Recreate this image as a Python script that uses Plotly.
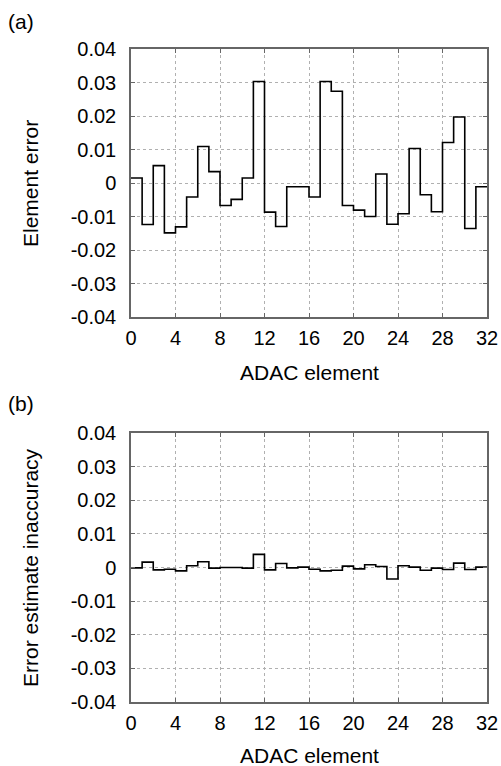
import plotly.graph_objects as go
from plotly.subplots import make_subplots

# ---- data ----
elements = list(range(32))
element_error = [0.0015, -0.0124, 0.0052, -0.0149, -0.0131, -0.0042, 0.0109, 0.0034,
                 -0.0067, -0.0049, 0.0015, 0.0303, -0.0087, -0.0130, -0.0011, -0.0011,
                 -0.0042, 0.0303, 0.0274, -0.0067, -0.0081, -0.0100, 0.0027, -0.0123,
                 -0.0092, 0.0103, -0.0035, -0.0086, 0.0121, 0.0197, -0.0136, -0.0011]
estimate_inaccuracy = [-0.0001, 0.0016, -0.0007, -0.0005, -0.0010, 0.0005, 0.0017, -0.0002,
                       0.0000, 0.0000, -0.0002, 0.0039, -0.0007, 0.0012, -0.0001, 0.0001,
                       -0.0005, -0.0010, -0.0008, 0.0004, -0.0004, 0.0008, 0.0003, -0.0034,
                       0.0005, 0.0001, -0.0008, -0.0002, -0.0006, 0.0013, -0.0006, 0.0001]
x_ticks = [0, 4, 8, 12, 16, 20, 24, 28, 32]
y_ticks = [0.04, 0.03, 0.02, 0.01, 0, -0.01, -0.02, -0.03, -0.04]
y_tick_labels = ["0.04", "0.03", "0.02", "0.01", "0", "-0.01", "-0.02", "-0.03", "-0.04"]
panel_labels = ["(a)", "(b)"]
y_titles = ["Element error", "Error estimate inaccuracy"]
x_title = "ADAC element"

W, H = 501, 766
ml, mr, mt, mb = 131, 14, 49, 64
plot_w = W - ml - mr
plot_h = H - mt - mb

def fy(py):
    return (H - mb - py) / plot_h

def fx(px):
    return (px - ml) / plot_w

fig = make_subplots(rows=2, cols=1)

for i, vals in enumerate([element_error, estimate_inaccuracy]):
    xs = elements + [elements[-1] + 1]
    ys = vals + [vals[-1]]
    fig.add_trace(go.Scatter(x=xs, y=ys, mode="lines", line=dict(shape="hv", color="black", width=1.6),
                             showlegend=False, hoverinfo="skip"), row=i + 1, col=1)

domains = [[fy(317), 1.0], [0.0, fy(433)]]
font = dict(family="Liberation Sans, Arial, sans-serif", color="black")
for i in range(2):
    xa = "xaxis" if i == 0 else "xaxis2"
    ya = "yaxis" if i == 0 else "yaxis2"
    fig.layout[xa].update(
        domain=[0, 1], range=[0, 32], tickvals=x_ticks, ticktext=[str(t) for t in x_ticks],
        showgrid=True, gridcolor="#b0b0b0", griddash="dot", gridwidth=1,
        showline=True, linecolor="#666666", linewidth=1.5, mirror="ticks",
        ticks="inside", ticklen=4, tickcolor="#666666",
        tickfont=dict(size=20, **font), zeroline=False, automargin=False,
        ticklabelstandoff=2,
    )
    fig.layout[ya].update(
        domain=domains[i], range=[-0.04, 0.04], tickvals=y_ticks, ticktext=y_tick_labels,
        showgrid=True, gridcolor="#b0b0b0", griddash="dot", gridwidth=1,
        showline=True, linecolor="#666666", linewidth=1.5, mirror="ticks",
        ticks="inside", ticklen=4, tickcolor="#666666",
        tickfont=dict(size=20, **font), zeroline=False, automargin=False,
        ticklabelstandoff=9,
    )

tfont = dict(size=21, **font)
# panel labels
fig.add_annotation(text=panel_labels[0], x=fx(6), y=fy(21), xref="paper", yref="paper",
                   showarrow=False, font=tfont, xanchor="left", yanchor="middle")
fig.add_annotation(text=panel_labels[1], x=fx(6), y=fy(403), xref="paper", yref="paper",
                   showarrow=False, font=tfont, xanchor="left", yanchor="middle")
# y titles
fig.add_annotation(text=y_titles[0], x=fx(30), y=fy(183), xref="paper", yref="paper", textangle=-90,
                   showarrow=False, font=tfont, xanchor="center", yanchor="middle")
fig.add_annotation(text=y_titles[1], x=fx(30), y=fy(567), xref="paper", yref="paper", textangle=-90,
                   showarrow=False, font=tfont, xanchor="center", yanchor="middle")
# x titles
fig.add_annotation(text=x_title, x=0.5, y=fy(372), xref="paper", yref="paper",
                   showarrow=False, font=tfont, xanchor="center", yanchor="middle")
fig.add_annotation(text=x_title, x=0.5, y=fy(755), xref="paper", yref="paper",
                   showarrow=False, font=tfont, xanchor="center", yanchor="middle")

fig.update_layout(width=W, height=H, margin=dict(l=ml, r=mr, t=mt, b=mb),
                  paper_bgcolor="white", plot_bgcolor="white", font=font)

fig.write_html("out.html", config={"displayModeBar": False},
               post_script="document.body.style.margin='0';document.body.style.overflow='hidden';")
